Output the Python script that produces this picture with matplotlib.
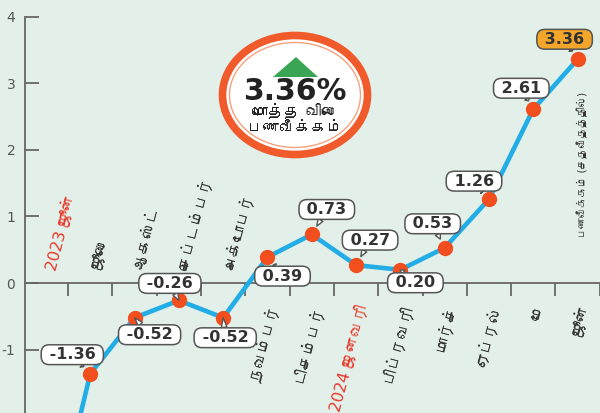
import matplotlib
matplotlib.use("Agg")
import matplotlib.pyplot as plt
from matplotlib import font_manager
from matplotlib.ft2font import FT2Font
from matplotlib.patches import Ellipse, Polygon

# data
months = ["2023 ஜூன்", "ஜூலை", "ஆகஸ்ட்", "செப்டம்பர்", "அக்டோபர்", "நவம்பர்",
          "டிசம்பர்", "2024 ஜனவரி", "பிப்ரவரி", "மார்ச்", "ஏப்ரல்", "மே", "ஜூன்"]
values = [-4.12, -1.36, -0.52, -0.26, -0.52, 0.39, 0.73, 0.27, 0.20, 0.53, 1.26, 2.61, 3.36]
yticks = [-1, 0, 1, 2, 3, 4]
badge_value = "3.36%"
badge_lines = ["மொத்த விலை", "பணவீக்கம்"]
unit_label = "பணவீக்கம் (சதவீதத்தில்)"

# label box offsets in pixels (None = no label)
offsets = [None, (-18, 19), (15, -17), (-9, 17), (2, -20), (15, -19), (15, 25),
           (14, 25), (15, -13), (-12, 24), (-15, 18), (-12, 21), (-13, 20)]

# use a Tamil font if one is installed
fams = ["DejaVu Sans"]
for f in font_manager.fontManager.ttflist:
    try:
        if 0x0B9C in FT2Font(f.fname).get_charmap() and f.name not in fams:
            fams.append(f.name)
    except Exception:
        pass
plt.rcParams["font.family"] = fams
plt.rcParams["axes.unicode_minus"] = False

bg = "#e2f0e9"
fig = plt.figure(figsize=(6, 4.13), dpi=100, facecolor=bg)
ax = fig.add_axes([25 / 600, 0, 575 / 600, 1])
ax.set_facecolor(bg)
ax.set_xlim(-0.474, 12.506)
ax.set_ylim(-1.95, 4.25)

for s in ["top", "right"]:
    ax.spines[s].set_visible(False)
ax.spines["left"].set_bounds(-1.95, 4)
ax.spines["bottom"].set_position(("data", 0))
for s in ["left", "bottom"]:
    ax.spines[s].set_color("#666666")
    ax.spines[s].set_linewidth(1.3)

ax.set_yticks(yticks)
ax.tick_params(axis="y", direction="in", length=10, width=1.3, color="#666666",
               labelsize=10, labelcolor="#555555", pad=7)
ax.set_xticks([i + 0.5 for i in range(len(months))])
ax.set_xticklabels([])
ax.tick_params(axis="x", direction="out", length=9.5, width=1.3, color="#666666")

x = list(range(len(values)))
ax.plot(x, values, color="#22ade6", lw=3.3, zorder=3)
ax.plot(x, values, "o", color="#f24e1e", ms=10, zorder=4)

# month names
for i, (m, v) in enumerate(zip(months, values)):
    col = "#e8392b" if m[0].isdigit() else "#333333"
    if v < 0:
        ax.text(i + 0.12, 0.2, m, rotation=75, rotation_mode="anchor",
                ha="left", va="center", fontsize=11.5, color=col)
    else:
        ax.text(i + 0.17, -0.33, m, rotation=75, rotation_mode="anchor",
                ha="right", va="center", fontsize=11.5, color=col)

# value boxes
for i, v in enumerate(values):
    if offsets[i] is None:
        continue
    fc = "#f4a62a" if i == len(values) - 1 else "white"
    ax.annotate(f" {v:.2f} ", xy=(i, v), xytext=offsets[i], textcoords="offset pixels",
                ha="center", va="center", fontsize=11.5, fontweight="bold", color="#333333",
                bbox=dict(boxstyle="round,pad=0.15,rounding_size=0.5", fc=fc, ec="#555555", lw=1.1),
                arrowprops=dict(arrowstyle="wedge,tail_width=0.35,shrink_factor=0.5",
                                fc=fc, ec="#555555", lw=1.0, shrinkA=0, shrinkB=7),
                zorder=5)

# badge
cx, cy = 295 / 600, 1 - 95 / 413
fig.patches.append(Ellipse((cx, cy), 145 / 600, 119 / 413, transform=fig.transFigure,
                           fc="white", ec="#f15a2b", lw=5.5, zorder=6))
fig.patches.append(Ellipse((cx, cy), 131 / 600, 105 / 413, transform=fig.transFigure,
                           fc="none", ec="#f7a07e", lw=1, zorder=6))
tri = [(273 / 600, 1 - 77 / 413), (318 / 600, 1 - 77 / 413), (296 / 600, 1 - 57 / 413)]
fig.patches.append(Polygon(tri, closed=True, transform=fig.transFigure,
                           fc="#3aa655", ec="none", zorder=7))
fig.text(cx, 1 - 92 / 413, badge_value, ha="center", va="center", fontsize=21.5,
         fontweight="bold", color="#222222", zorder=8)
fig.text(cx, 1 - 112 / 413, badge_lines[0], ha="center", va="center", fontsize=11.5,
         fontweight="bold", color="#222222", zorder=8)
fig.text(cx, 1 - 129 / 413, badge_lines[1], ha="center", va="center", fontsize=11.5,
         fontweight="bold", color="#222222", zorder=8)

# unit label
fig.text(583 / 600, 1 - 165 / 413, unit_label, rotation=90, ha="center", va="center",
         fontsize=7.5, color="#333333")

fig.savefig("out.png", dpi=100, facecolor=bg)
